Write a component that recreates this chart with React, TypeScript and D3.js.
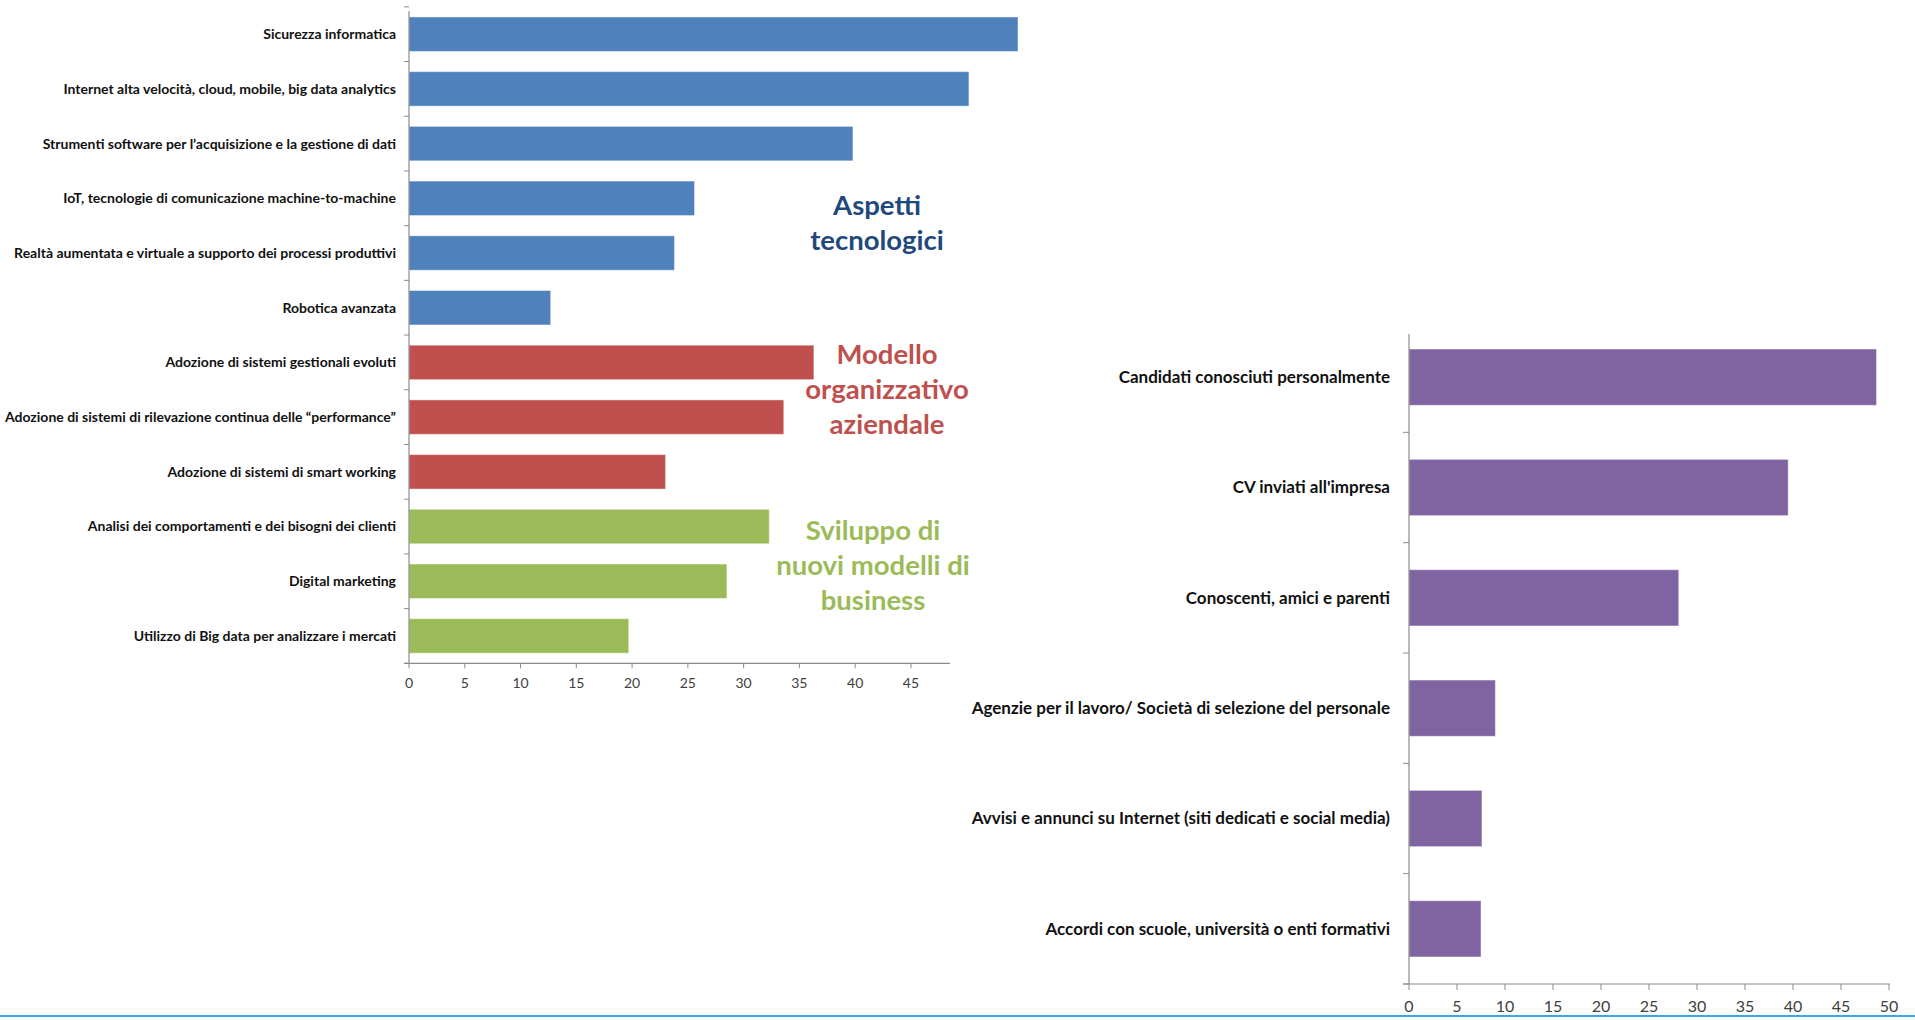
import React from "react";
import * as d3 from "d3";

const leftCategories = [
  "Sicurezza informatica",
  "Internet alta velocità, cloud, mobile, big data analytics",
  "Strumenti software per l’acquisizione  e la gestione di dati",
  "IoT, tecnologie di comunicazione machine-to-machine",
  "Realtà aumentata e virtuale a supporto dei processi produttivi",
  "Robotica avanzata",
  "Adozione di sistemi gestionali evoluti",
  "Adozione di sistemi di rilevazione continua delle “performance”",
  "Adozione di sistemi di smart working",
  "Analisi dei comportamenti e dei bisogni dei clienti",
  "Digital marketing",
  "Utilizzo di Big data per analizzare i mercati",
];
const leftValues = [54.6, 50.2, 39.8, 25.6, 23.8, 12.7, 36.3, 33.6, 23.0, 32.3, 28.5, 19.7];
const leftGroups = ["tech", "tech", "tech", "tech", "tech", "tech", "org", "org", "org", "biz", "biz", "biz"];
const leftTicks = [0, 5, 10, 15, 20, 25, 30, 35, 40, 45];

const rightCategories = [
  "Candidati conosciuti personalmente",
  "CV inviati all'impresa",
  "Conoscenti, amici e parenti",
  "Agenzie per il lavoro/ Società di selezione del personale",
  "Avvisi e annunci su Internet (siti dedicati e social media)",
  "Accordi con scuole, università o enti formativi",
];
const rightValues = [48.7, 39.5, 28.1, 9.0, 7.6, 7.5];
const rightTicks = [0, 5, 10, 15, 20, 25, 30, 35, 40, 45, 50];

const groupColors: Record<string, string> = {
  tech: "#4F81BD",
  org: "#C0504D",
  biz: "#9BBB59",
};
const purple = "#8064A2";

const annotations = [
  { lines: ["Aspetti", "tecnologici"], color: "#1F497D", x: 877, y: 215 },
  { lines: ["Modello", "organizzativo", "aziendale"], color: "#C0504D", x: 887, y: 364 },
  { lines: ["Sviluppo di", "nuovi modelli di", "business"], color: "#9BBB59", x: 873, y: 540 },
];

const FONT = "Lato, 'Open Sans', sans-serif";

export default function App() {
  const W = 1915;
  const H = 1020;

  // Left chart scales
  const lx = d3.scaleLinear().domain([0, 50]).range([409, 966.7]);
  const ly = d3
    .scaleBand<string>()
    .domain(leftCategories)
    .range([6.85, 663.3])
    .paddingInner(0.37)
    .paddingOuter(0.185);
  const lAxisY = 663.3;
  const lStep = ly.step();

  // Right chart scales
  const rx = d3.scaleLinear().domain([0, 50]).range([1409, 1889]);
  const rTop = 322;
  const ry = d3
    .scaleBand<string>()
    .domain(rightCategories)
    .range([rTop, 984])
    .paddingInner(0.49)
    .paddingOuter(0.245);
  const rAxisY = 984;
  const rStep = ry.step();

  const axisColor = "#8C8C8C";

  return (
    <svg
      width={W}
      height={H}
      style={{ position: "absolute", left: 0, top: 0, display: "block", background: "#fff" }}
      fontFamily={FONT}
    >
      {/* LEFT CHART */}
      <g>
        {leftCategories.map((c, i) => (
          <rect
            key={c}
            x={lx(0)}
            y={ly(c)!}
            width={lx(leftValues[i]) - lx(0)}
            height={ly.bandwidth()}
            fill={groupColors[leftGroups[i]]}
            stroke="rgba(255,255,255,0.45)"
            strokeWidth={1}
          />
        ))}
        <line x1={lx(0)} x2={lx(0)} y1={11} y2={lAxisY} stroke={axisColor} strokeWidth={1.2} />
        {d3.range(leftCategories.length + 1).map((i) => {
          const y = 6.85 + i * lStep;
          return <line key={i} x1={lx(0) - 5} x2={lx(0)} y1={y} y2={y} stroke={axisColor} strokeWidth={1} />;
        })}
        <line x1={lx(0) - 5} x2={lx(48.5)} y1={lAxisY} y2={lAxisY} stroke={axisColor} strokeWidth={1.2} />
        {leftTicks.map((t) => (
          <g key={t}>
            <line x1={lx(t)} x2={lx(t)} y1={lAxisY} y2={lAxisY + 5} stroke={axisColor} strokeWidth={1} />
            <text x={lx(t)} y={lAxisY + 25} textAnchor="middle" fontSize={14} fill="#404040">
              {t}
            </text>
          </g>
        ))}
        {leftCategories.map((c) => (
          <text
            key={c}
            x={396}
            y={ly(c)! + ly.bandwidth() / 2}
            dy="0.35em"
            textAnchor="end"
            fontSize={14}
            fontWeight={700}
            fill="#111"
          >
            {c}
          </text>
        ))}
        {annotations.map((a) => (
          <text key={a.lines[0]} textAnchor="middle" fontSize={27.5} fontWeight={700} fill={a.color}>
            {a.lines.map((l, i) => (
              <tspan key={l} x={a.x} y={a.y + i * 35}>
                {l}
              </tspan>
            ))}
          </text>
        ))}
      </g>

      {/* RIGHT CHART */}
      <g>
        {rightCategories.map((c, i) => (
          <rect
            key={c}
            x={rx(0)}
            y={ry(c)!}
            width={rx(rightValues[i]) - rx(0)}
            height={ry.bandwidth()}
            fill={purple}
            stroke="rgba(255,255,255,0.45)"
            strokeWidth={1}
          />
        ))}
        <line x1={rx(0)} x2={rx(0)} y1={334} y2={rAxisY} stroke={axisColor} strokeWidth={1.2} />
        {d3.range(1, rightCategories.length + 1).map((i) => {
          const y = rTop + i * rStep;
          return <line key={i} x1={rx(0) - 6} x2={rx(0)} y1={y} y2={y} stroke={axisColor} strokeWidth={1} />;
        })}
        <line x1={rx(0) - 6} x2={rx(50) + 1} y1={rAxisY} y2={rAxisY} stroke={axisColor} strokeWidth={1.2} />
        {rightTicks.map((t) => (
          <g key={t}>
            <line x1={rx(t)} x2={rx(t)} y1={rAxisY} y2={rAxisY + 6} stroke={axisColor} strokeWidth={1} />
            <text x={rx(t)} y={rAxisY + 28} textAnchor="middle" fontSize={16} fill="#404040">
              {t}
            </text>
          </g>
        ))}
        {rightCategories.map((c) => (
          <text
            key={c}
            x={1390}
            y={ry(c)! + ry.bandwidth() / 2}
            dy="0.35em"
            textAnchor="end"
            fontSize={17}
            fontWeight={700}
            fill="#111"
          >
            {c}
          </text>
        ))}
      </g>

      <line x1={0} x2={W} y1={1016} y2={1016} stroke="#3BA3E6" strokeWidth={2} />
    </svg>
  );
}
